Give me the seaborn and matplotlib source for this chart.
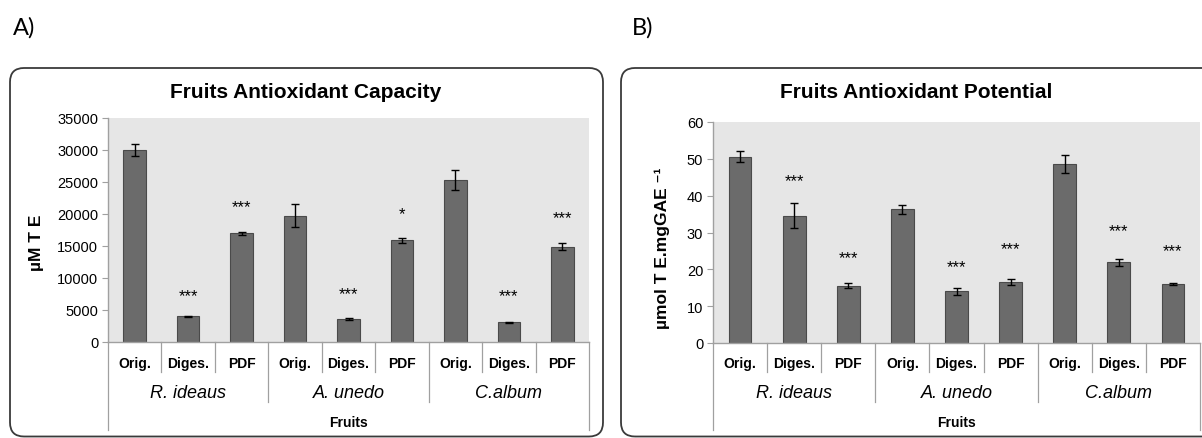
import matplotlib
matplotlib.use("Agg")
import matplotlib.pyplot as plt
import seaborn as sns
import pandas as pd
from matplotlib.patches import FancyBboxPatch
from matplotlib.transforms import IdentityTransform, blended_transform_factory, offset_copy
from matplotlib.lines import Line2D

# ---------------- data ----------------
fruits = ["R. ideaus", "A. unedo", "C.album"]
treatments = ["Orig.", "Diges.", "PDF"]

capacity = [30000, 4000, 17000, 19700, 3600, 15900, 25300, 3100, 14900]
capacity_err = [900, 100, 250, 1800, 100, 400, 1500, 60, 500]
capacity_sig = ["", "***", "***", "", "***", "*", "", "***", "***"]
capacity_sig_y = [None, 8100, 21900, None, 8350, 20800, None, 8100, 20200]
capacity_ticks = [0, 5000, 10000, 15000, 20000, 25000, 30000, 35000]

potential = [50.6, 34.6, 15.6, 36.3, 14.0, 16.6, 48.6, 21.9, 16.0]
potential_err = [1.4, 3.4, 0.6, 1.3, 1.0, 0.8, 2.4, 1.0, 0.3]
potential_sig = ["", "***", "***", "", "***", "***", "", "***", "***"]
potential_sig_y = [None, 45.4, 24.5, None, 22.1, 27.1, None, 31.9, 26.4]
potential_ticks = [0, 10, 20, 30, 40, 50, 60]

# ---------------- style ----------------
W, H = 1202, 439
plt.rcParams["font.family"] = ["Liberation Sans", "DejaVu Sans"]
BAR = "#6b6b6b"
EDGE = "#4a4a4a"
BG = "#e6e6e6"
GRID = "#a0a0a0"

fig = plt.figure(figsize=(W / 100, H / 100), dpi=100)


def fx(x):
    return x / W


def fy(y):
    return 1 - y / H


labels = [f"{f} {t}" for f in fruits for t in treatments]


def draw_panel(box, values, errs, sig, sig_y, ticks, ylabel, ylabel_xy, title, title_xy):
    left, right, top, bottom = box
    h = bottom - top
    ax = fig.add_axes([fx(left), fy(bottom), (right - left) / W, h / H])
    df = pd.DataFrame({"label": labels, "value": values})
    sns.barplot(data=df, x="label", y="value", order=labels, color=BAR,
                edgecolor=EDGE, linewidth=0.8, width=0.42, errorbar=None,
                saturation=1, ax=ax, zorder=2)
    ax.errorbar(range(len(values)), values, yerr=errs, fmt="none",
                ecolor="black", elinewidth=1, capsize=2.6, capthick=1, zorder=3)
    ax.set_facecolor(BG)
    ax.set_xlim(-0.5, len(values) - 0.5)
    ax.set_ylim(ticks[0], ticks[-1])
    ax.set_yticks(ticks)
    ax.set_yticklabels([str(t) for t in ticks], fontsize=10.5)
    ax.tick_params(axis="y", length=4, color=GRID, pad=3)
    ax.tick_params(axis="x", bottom=False, labelbottom=False)
    ax.set_xlabel("")
    ax.set_ylabel("")
    for s in ["top", "right"]:
        ax.spines[s].set_visible(False)
    for s in ["left", "bottom"]:
        ax.spines[s].set_color(GRID)
        ax.spines[s].set_linewidth(1.0)

    def af(y):
        return (bottom - y) / h

    tr = blended_transform_factory(ax.transData, ax.transAxes)
    n = len(values)
    for i in range(n + 1):
        x = i - 0.5
        if x in (-0.5, n - 0.5):
            y1 = af(431)
        elif i % 3 == 0:
            y1 = af(403)
        else:
            y1 = af(373)
        ax.add_line(Line2D([x, x], [0, y1], transform=tr, color=GRID, lw=0.9, clip_on=False))
    for i in range(n):
        ax.text(i, af(364), treatments[i % 3], transform=tr, ha="center", va="center",
                fontsize=10, fontweight="bold")
    for g, f in enumerate(fruits):
        ax.text(g * 3 + 1, af(394), f, transform=tr, ha="center", va="center",
                fontsize=13, style="italic")
    ax.text((n - 1) / 2, af(423), "Fruits", transform=tr, ha="center", va="center",
            fontsize=10, fontweight="bold")

    star_tr = offset_copy(ax.transData, fig=fig, x=0, y=-7.0, units="points")
    for i, (s, y) in enumerate(zip(sig, sig_y)):
        if s and y is not None:
            ax.text(i, y, s, transform=star_tr, ha="center", va="baseline", fontsize=12)

    fig.text(fx(ylabel_xy[0]), fy(ylabel_xy[1]), ylabel, rotation=90, ha="center",
             va="center", fontsize=12.5, fontweight="bold")
    fig.text(fx(title_xy[0]), fy(title_xy[1]), title, ha="center", va="center",
             fontsize=15, fontweight="bold")
    return ax


draw_panel((108, 589, 119, 343), capacity, capacity_err, capacity_sig, capacity_sig_y,
           capacity_ticks, "µM T E", (37, 243), "Fruits Antioxidant Capacity", (306, 93))
draw_panel((713, 1200, 123, 344), potential, potential_err, potential_sig, potential_sig_y,
           potential_ticks, "µmol T E.mgGAE ⁻¹", (662, 248), "Fruits Antioxidant Potential", (916, 93))

# rounded frames (pixel coordinates)
for x0, w in [(10, 593), (621, 600)]:
    p = FancyBboxPatch((x0, H - 437.5), w, 437.5 - 69, boxstyle="round,pad=0,rounding_size=14",
                       transform=IdentityTransform(), fill=False, ec="#3a3a3a", lw=1.3)
    fig.add_artist(p)

fig.text(fx(13), fy(28), "A)", ha="left", va="center", fontsize=17, family=["Lato", "DejaVu Sans"])
fig.text(fx(632), fy(28), "B)", ha="left", va="center", fontsize=17, family=["Lato", "DejaVu Sans"])

fig.savefig("out.png", dpi=100)
